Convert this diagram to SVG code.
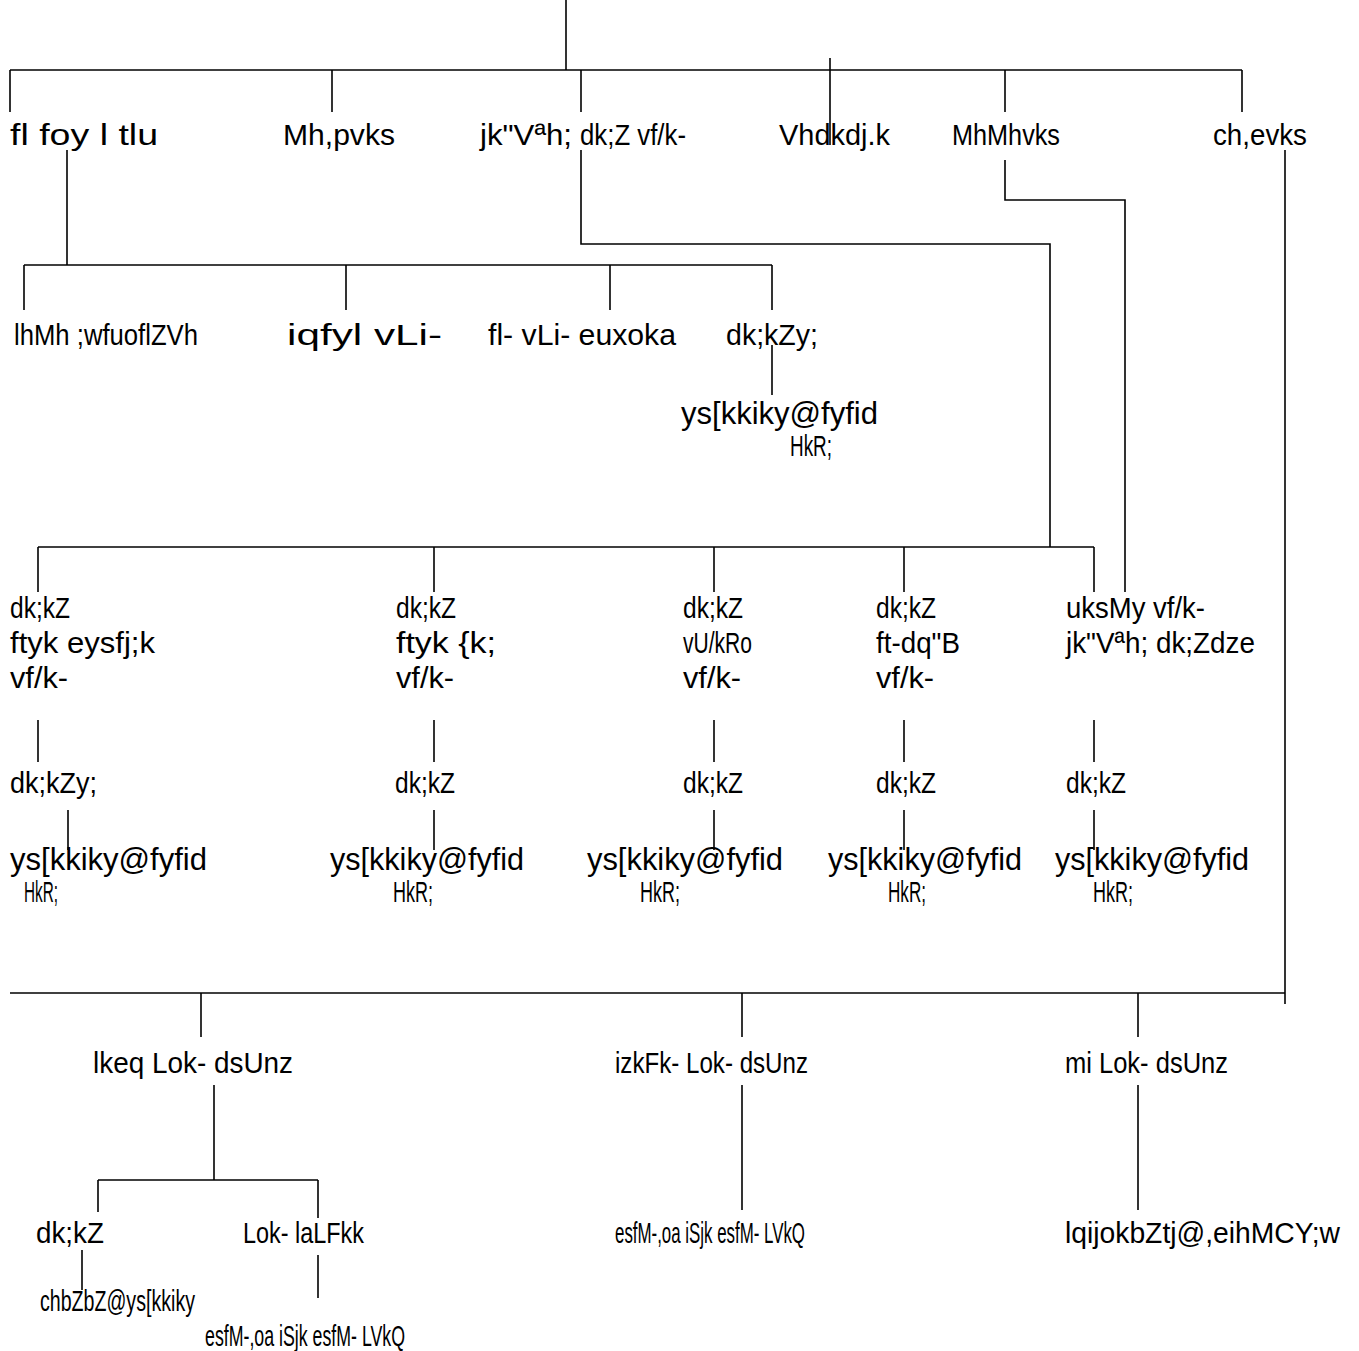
<svg xmlns="http://www.w3.org/2000/svg" width="1359" height="1351" viewBox="0 0 1359 1351">
<style>
.t{font-family:"Liberation Sans",Arial,sans-serif;font-size:30px;fill:#000}
.b{font-size:31px}
line,polyline{stroke:#000;stroke-width:1.6;fill:none}
</style>
<rect width="1359" height="1351" fill="#fff"/>
<g id="connectors">
<line x1="566" y1="0" x2="566" y2="70"/>
<line x1="10" y1="70" x2="1242" y2="70"/>
<line x1="10" y1="70" x2="10" y2="112"/>
<line x1="332" y1="70" x2="332" y2="112"/>
<line x1="581" y1="70" x2="581" y2="112"/>
<line x1="1005" y1="70" x2="1005" y2="112"/>
<line x1="1242" y1="70" x2="1242" y2="112"/>
<line x1="830" y1="58" x2="830" y2="145"/>
<line x1="67" y1="150" x2="67" y2="265"/>
<line x1="24" y1="265" x2="772" y2="265"/>
<line x1="24" y1="265" x2="24" y2="310"/>
<line x1="346" y1="265" x2="346" y2="310"/>
<line x1="610" y1="265" x2="610" y2="310"/>
<line x1="772" y1="265" x2="772" y2="310"/>
<line x1="772" y1="345" x2="772" y2="395"/>
<polyline points="581,150 581,244 1050,244 1050,547"/>
<line x1="38" y1="547" x2="1094" y2="547"/>
<line x1="38" y1="547" x2="38" y2="592"/>
<line x1="434" y1="547" x2="434" y2="592"/>
<line x1="714" y1="547" x2="714" y2="592"/>
<line x1="904" y1="547" x2="904" y2="592"/>
<line x1="1094" y1="547" x2="1094" y2="592"/>
<polyline points="1005,160 1005,200 1125,200 1125,592"/>
<line x1="38" y1="720" x2="38" y2="762"/>
<line x1="434" y1="720" x2="434" y2="762"/>
<line x1="714" y1="720" x2="714" y2="762"/>
<line x1="904" y1="720" x2="904" y2="762"/>
<line x1="1094" y1="720" x2="1094" y2="762"/>
<line x1="68" y1="810" x2="68" y2="850"/>
<line x1="434" y1="810" x2="434" y2="850"/>
<line x1="714" y1="810" x2="714" y2="850"/>
<line x1="904" y1="810" x2="904" y2="850"/>
<line x1="1094" y1="810" x2="1094" y2="850"/>
<line x1="1285" y1="150" x2="1285" y2="1004"/>
<line x1="10" y1="993" x2="1285" y2="993"/>
<line x1="201" y1="993" x2="201" y2="1037"/>
<line x1="742" y1="993" x2="742" y2="1037"/>
<line x1="1138" y1="993" x2="1138" y2="1037"/>
<line x1="214" y1="1085" x2="214" y2="1180"/>
<line x1="98" y1="1180" x2="318" y2="1180"/>
<line x1="98" y1="1180" x2="98" y2="1212"/>
<line x1="318" y1="1180" x2="318" y2="1218"/>
<line x1="82" y1="1250" x2="82" y2="1290"/>
<line x1="318" y1="1255" x2="318" y2="1298"/>
<line x1="742" y1="1085" x2="742" y2="1210"/>
<line x1="1138" y1="1085" x2="1138" y2="1210"/>
</g>
<g id="n1"><text class="t" x="10" y="145" textLength="148" lengthAdjust="spacingAndGlyphs">fl foy l tlu</text></g>
<g id="n2"><text class="t" x="283" y="145" textLength="112" lengthAdjust="spacingAndGlyphs">Mh,pvks</text></g>
<g id="n3"><text class="t" x="480" y="145" textLength="92" lengthAdjust="spacingAndGlyphs">jk"Vªh;</text></g>
<g id="n4"><text class="t" x="580" y="145" textLength="106" lengthAdjust="spacingAndGlyphs">dk;Z vf/k-</text></g>
<g id="n5"><text class="t" x="779" y="145" textLength="111" lengthAdjust="spacingAndGlyphs">Vhdkdj.k</text></g>
<g id="n6"><text class="t" x="952" y="145" textLength="108" lengthAdjust="spacingAndGlyphs">MhMhvks</text></g>
<g id="n7"><text class="t" x="1213" y="145" textLength="94" lengthAdjust="spacingAndGlyphs">ch,evks</text></g>
<g id="n8"><text class="t" x="14" y="345" textLength="184" lengthAdjust="spacingAndGlyphs">lhMh ;wfuoflZVh</text></g>
<g id="n9"><text class="t" x="287" y="345" textLength="155" lengthAdjust="spacingAndGlyphs">iqfyl vLi-</text></g>
<g id="n10"><text class="t" x="488" y="345" textLength="188" lengthAdjust="spacingAndGlyphs">fl- vLi- euxoka</text></g>
<g id="n11"><text class="t" x="726" y="345" textLength="92" lengthAdjust="spacingAndGlyphs">dk;kZy;</text></g>
<g id="n12"><text class="t b" x="681" y="424" textLength="197" lengthAdjust="spacingAndGlyphs">ys[kkiky@fyfid</text><text class="t" x="790" y="456" textLength="42" lengthAdjust="spacingAndGlyphs">HkR;</text></g>
<g id="n13"><text class="t" x="10" y="618" textLength="60" lengthAdjust="spacingAndGlyphs">dk;kZ</text><text class="t" x="10" y="653" textLength="145" lengthAdjust="spacingAndGlyphs">ftyk eysfj;k</text><text class="t" x="10" y="688" textLength="58" lengthAdjust="spacingAndGlyphs">vf/k-</text></g>
<g id="n14"><text class="t" x="396" y="618" textLength="60" lengthAdjust="spacingAndGlyphs">dk;kZ</text><text class="t" x="396" y="653" textLength="100" lengthAdjust="spacingAndGlyphs">ftyk {k;</text><text class="t" x="396" y="688" textLength="58" lengthAdjust="spacingAndGlyphs">vf/k-</text></g>
<g id="n15"><text class="t" x="683" y="618" textLength="60" lengthAdjust="spacingAndGlyphs">dk;kZ</text><text class="t" x="683" y="653" textLength="69" lengthAdjust="spacingAndGlyphs">vU/kRo</text><text class="t" x="683" y="688" textLength="58" lengthAdjust="spacingAndGlyphs">vf/k-</text></g>
<g id="n16"><text class="t" x="876" y="618" textLength="60" lengthAdjust="spacingAndGlyphs">dk;kZ</text><text class="t" x="876" y="653" textLength="84" lengthAdjust="spacingAndGlyphs">ft-dq"B</text><text class="t" x="876" y="688" textLength="58" lengthAdjust="spacingAndGlyphs">vf/k-</text></g>
<g id="n17"><text class="t" x="1066" y="618" textLength="139" lengthAdjust="spacingAndGlyphs">uksMy vf/k-</text><text class="t" x="1066" y="653" textLength="189" lengthAdjust="spacingAndGlyphs">jk"Vªh; dk;Zdze</text></g>
<g id="n18"><text class="t" x="10" y="793" textLength="87" lengthAdjust="spacingAndGlyphs">dk;kZy;</text></g>
<g id="n19"><text class="t" x="395" y="793" textLength="60" lengthAdjust="spacingAndGlyphs">dk;kZ</text></g>
<g id="n20"><text class="t" x="683" y="793" textLength="60" lengthAdjust="spacingAndGlyphs">dk;kZ</text></g>
<g id="n21"><text class="t" x="876" y="793" textLength="60" lengthAdjust="spacingAndGlyphs">dk;kZ</text></g>
<g id="n22"><text class="t" x="1066" y="793" textLength="60" lengthAdjust="spacingAndGlyphs">dk;kZ</text></g>
<g id="n23"><text class="t b" x="10" y="870" textLength="197" lengthAdjust="spacingAndGlyphs">ys[kkiky@fyfid</text><text class="t" x="24" y="902" textLength="34" lengthAdjust="spacingAndGlyphs">HkR;</text></g>
<g id="n24"><text class="t b" x="330" y="870" textLength="194" lengthAdjust="spacingAndGlyphs">ys[kkiky@fyfid</text><text class="t" x="393" y="902" textLength="40" lengthAdjust="spacingAndGlyphs">HkR;</text></g>
<g id="n25"><text class="t b" x="587" y="870" textLength="196" lengthAdjust="spacingAndGlyphs">ys[kkiky@fyfid</text><text class="t" x="640" y="902" textLength="40" lengthAdjust="spacingAndGlyphs">HkR;</text></g>
<g id="n26"><text class="t b" x="828" y="870" textLength="194" lengthAdjust="spacingAndGlyphs">ys[kkiky@fyfid</text><text class="t" x="888" y="902" textLength="38" lengthAdjust="spacingAndGlyphs">HkR;</text></g>
<g id="n27"><text class="t b" x="1055" y="870" textLength="194" lengthAdjust="spacingAndGlyphs">ys[kkiky@fyfid</text><text class="t" x="1093" y="902" textLength="40" lengthAdjust="spacingAndGlyphs">HkR;</text></g>
<g id="n28"><text class="t" x="93" y="1073" textLength="200" lengthAdjust="spacingAndGlyphs">lkeq Lok- dsUnz</text></g>
<g id="n29"><text class="t" x="615" y="1073" textLength="193" lengthAdjust="spacingAndGlyphs">izkFk- Lok- dsUnz</text></g>
<g id="n30"><text class="t" x="1065" y="1073" textLength="163" lengthAdjust="spacingAndGlyphs">mi Lok- dsUnz</text></g>
<g id="n31"><text class="t" x="36" y="1243" textLength="68" lengthAdjust="spacingAndGlyphs">dk;kZ</text></g>
<g id="n32"><text class="t" x="243" y="1243" textLength="121" lengthAdjust="spacingAndGlyphs">Lok- laLFkk</text></g>
<g id="n33"><text class="t" x="40" y="1311" textLength="155" lengthAdjust="spacingAndGlyphs">chbZbZ@ys[kkiky</text></g>
<g id="n34"><text class="t" x="205" y="1346" textLength="200" lengthAdjust="spacingAndGlyphs">esfM-,oa iSjk esfM- LVkQ</text></g>
<g id="n35"><text class="t" x="615" y="1243" textLength="190" lengthAdjust="spacingAndGlyphs">esfM-,oa iSjk esfM- LVkQ</text></g>
<g id="n36"><text class="t" x="1065" y="1243" textLength="275" lengthAdjust="spacingAndGlyphs">lqijokbZtj@,eihMCY;w</text></g>
</svg>
